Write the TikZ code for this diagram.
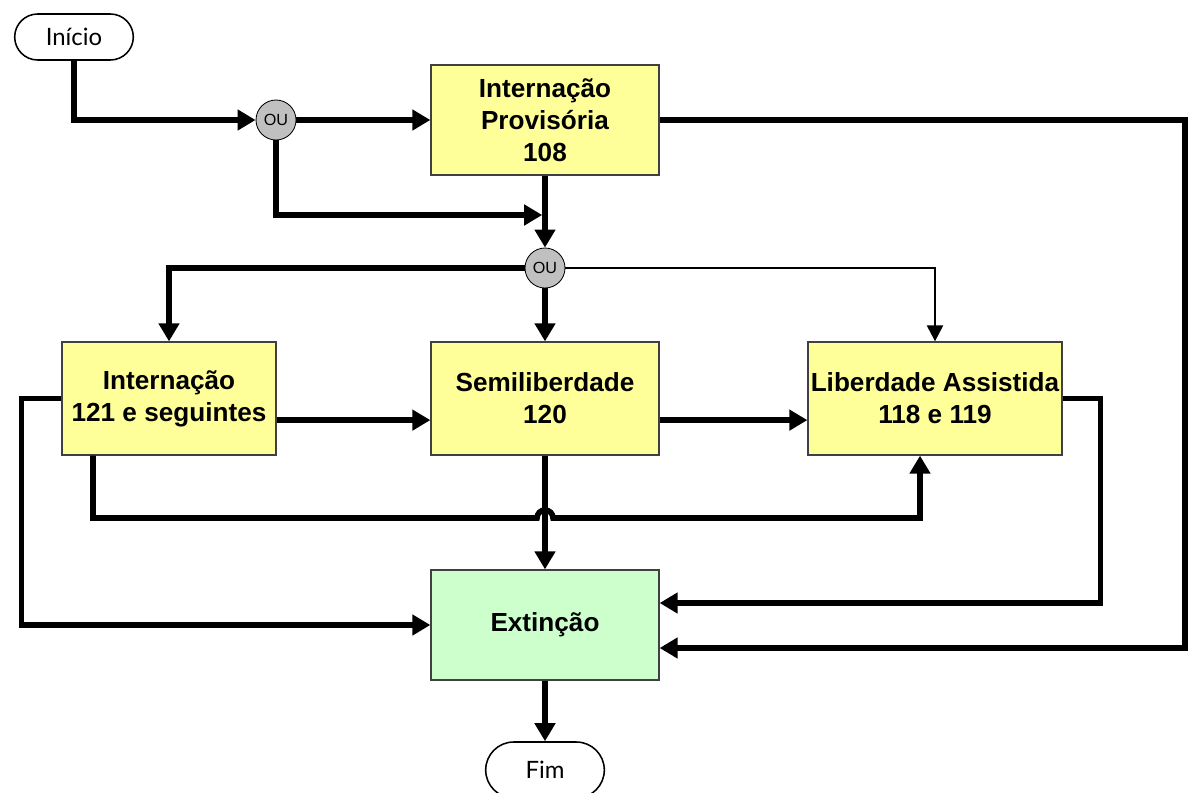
\documentclass[tikz,border=0pt]{standalone}
\usepackage{fontspec}
\setmainfont{Liberation Sans}
\newfontfamily\termfont{Lato}
\usetikzlibrary{shapes.misc, arrows.meta, positioning}

\definecolor{boxyellow}{RGB}{255,255,153}
\definecolor{boxgreen}{RGB}{204,255,204}
\definecolor{ougray}{RGB}{192,192,192}

\begin{document}
\begin{tikzpicture}[x=0.25mm, y=-0.25mm,
    stage/.style={draw=black!75, line width=0.9pt, fill=boxyellow, align=center, inner sep=0pt,
        font=\fontsize{18.6}{22.7}\selectfont\bfseries},
    terminal/.style={draw, line width=1.1pt, rounded rectangle, minimum width=32mm, minimum height=11.5mm,
        font=\termfont\fontsize{17}{19}\selectfont},
    ou/.style={circle, draw, line width=0.6pt, fill=ougray, inner sep=0pt, minimum size=10mm,
        font=\fontsize{11.5}{13}\selectfont},
    flow/.style={line width=1.4mm, -{Triangle[length=4.5mm, width=5mm]}},
    thinflow/.style={line width=0.55mm, -{Triangle[length=4mm, width=4mm]}}]
    \useasboundingbox (0,0) rectangle (1190,792);

    \node[terminal] (inicio) at (74,37) {Início};
    \node[ou] (ou-top) at (276,120) {OU};
    \node[stage, minimum width=57mm, minimum height=27.5mm] (provisoria) at (545,120) {Internação\\Provisória\\108};
    \node[ou] (ou-mid) at (545,268) {OU};
    \node[stage, minimum width=53.5mm, minimum height=28.25mm] (internacao) at (169,398.5) {Internação\\121 e seguintes};
    \node[stage, minimum width=57mm, minimum height=28.25mm] (semi) at (545,398.5) {Semiliberdade\\120};
    \node[stage, minimum width=63.5mm, minimum height=28.25mm] (liberdade) at (935,398.5) {Liberdade Assistida\\118 e 119};
    \node[stage, fill=boxgreen, minimum width=57mm, minimum height=27.5mm] (extincao) at (545,625) {Extinção};
    \node[terminal, minimum height=14mm] (fim) at (545,770) {Fim};

    \coordinate (join) at (545,215);
    \coordinate (hop) at (545,518);
    \coordinate (far-right) at (1185,648);

    \draw[flow] (inicio.south) |- (ou-top.west);
    \draw[flow] (ou-top.east) -- (provisoria.west);
    \draw[flow] (ou-top.south) |- ([xshift=-0.7mm] join);
    \draw[flow] (provisoria.south) -- (ou-mid.north);
    \draw[flow] (ou-mid.west) -| (internacao.north);
    \draw[flow] (ou-mid.south) -- (semi.north);
    \draw[thinflow] (ou-mid.east) -| (liberdade.north);
    \draw[flow] (provisoria.east) -| (far-right) -- (extincao.east |- far-right);
    \draw[flow] ([yshift=-5.4mm] internacao.east) -- ([yshift=-5.4mm] semi.west);
    \draw[flow] ([yshift=-5.4mm] semi.east) -- ([yshift=-5.4mm] liberdade.west);
    \draw[flow] (internacao.west) -- ++(-40,0) |- (extincao.west);
    \draw[flow] ([xshift=-19mm] internacao.south) |- ([xshift=-2mm] hop)
        arc[start angle=180, end angle=0, radius=2mm] -| ([xshift=-3.75mm] liberdade.south);
    \draw[flow] (semi.south) -- (extincao.north);
    \draw[flow] (liberdade.east) -- ++(38,0) |- ([yshift=5.5mm] extincao.east);
    \draw[flow] (extincao.south) -- (fim.north);
\end{tikzpicture}
\end{document}
